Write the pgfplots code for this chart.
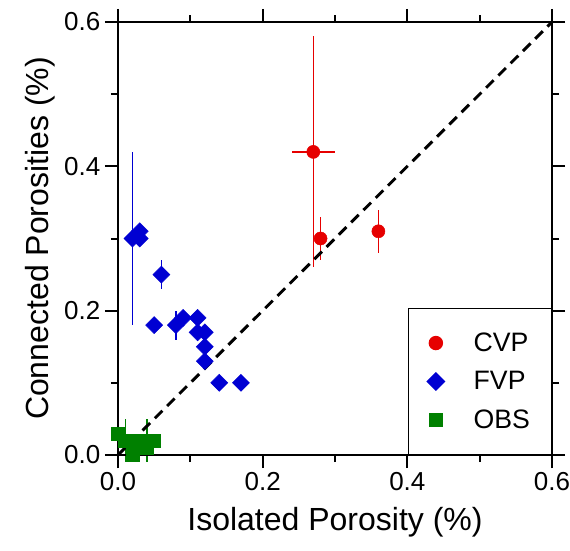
\documentclass[border=0pt]{standalone}
\usepackage{pgfplots}
\pgfplotsset{compat=1.18}
\usepackage{fontspec}
\setmainfont{Liberation Sans}
\definecolor{cvp}{RGB}{230,0,0}
\definecolor{fvp}{RGB}{0,0,210}
\definecolor{obs}{RGB}{0,128,0}

\pgfplotstableread{
x y ex ey
0.27 0.42 0.03 0.16
0.28 0.30 0 0.03
0.36 0.31 0 0.03
}\cvp
\pgfplotstableread{
x y ex ey
0.02 0.30 0 0.12
0.03 0.31 0 0
0.03 0.30 0 0
0.06 0.25 0 0.02
0.05 0.18 0 0
0.08 0.18 0 0.02
0.09 0.19 0 0
0.11 0.19 0 0
0.11 0.17 0 0
0.12 0.17 0 0
0.12 0.15 0 0
0.12 0.13 0 0
0.14 0.10 0 0
0.17 0.10 0 0
}\fvp
\pgfplotstableread{
x y ex ey
0.00 0.03 0 0
0.01 0.02 0 0.03
0.02 0.02 0 0
0.02 0.00 0 0
0.04 0.02 0 0.03
0.05 0.02 0 0
0.04 0.01 0 0
}\obs

\begin{document}
\begin{tikzpicture}
\begin{axis}[
  scale only axis,
  width=325.5pt, height=324.75pt,
  xmin=0, xmax=0.6, ymin=0, ymax=0.6,
  xtick={0,0.2,0.4,0.6}, ytick={0,0.2,0.4,0.6},
  xticklabels={0.0,0.2,0.4,0.6}, yticklabels={0.0,0.2,0.4,0.6},
  minor tick num=1,
  tick align=outside,
  major tick length=9.75pt, minor tick length=5.25pt,
  every tick/.style={black, line width=1.5pt},
  axis line style={line width=1.8pt},
  ticklabel style={font=\fontsize{19.5}{22}\selectfont},
  label style={font=\fontsize{24}{28}\selectfont},
  xlabel style={yshift=-5pt},
  xlabel={Isolated Porosity (\%)},
  ylabel={Connected Porosities (\%)},
  clip=false,
  legend cell align=left,
  legend style={at={(rel axis cs:1,0)}, anchor=south east, draw=black, line width=1pt,
    font=\fontsize{20}{24}\selectfont, inner xsep=14pt, inner ysep=16pt, row sep=9.5pt,
    /tikz/every odd column/.append style={column sep=20pt}},
  error bars/error bar style={line width=1pt},
]
\coordinate (bl) at (rel axis cs:0,0);
\coordinate (tr) at (rel axis cs:1,1);
\addplot[only marks, mark=*, color=cvp, mark size=4.9pt,
  error bars/.cd, x dir=both, x explicit, y dir=both, y explicit, error mark=none]
  table[x=x, y=y, x error=ex, y error=ey] {\cvp};
\addlegendentry{CVP}
\addplot[only marks, mark=square*, mark options={rotate=45}, color=fvp, mark size=4.5pt,
  error bars/.cd, y dir=both, y explicit, error mark=none]
  table[x=x, y=y, y error=ey] {\fvp};
\addlegendentry{FVP}
\addplot[only marks, mark=square*, color=obs, mark size=4.9pt,
  error bars/.cd, y dir=both, y explicit, error mark=none]
  table[x=x, y=y, y error=ey] {\obs};
\addlegendentry{OBS}
\addplot[forget plot, black, line width=2.2pt, dash pattern=on 8pt off 5pt] coordinates {(0,0) (0.6,0.6)};
\draw[line width=1.8pt] ([xshift=-9.75pt]rel axis cs:0,0) -- ([xshift=9.75pt]rel axis cs:1,0);
\draw[line width=1.8pt] ([xshift=-9.75pt]rel axis cs:0,1) -- ([xshift=9.75pt]rel axis cs:1,1);
\draw[line width=1.8pt] ([yshift=-9.75pt]rel axis cs:0,0) -- ([yshift=9.75pt]rel axis cs:0,1);
\draw[line width=1.8pt] ([yshift=-9.75pt]rel axis cs:1,0) -- ([yshift=9.75pt]rel axis cs:1,1);
\end{axis}
\pgfresetboundingbox
\path ([shift={(-88.5pt,-71.25pt)}]bl) rectangle ([shift={(13.5pt,16.5pt)}]tr);
\end{tikzpicture}
\end{document}
